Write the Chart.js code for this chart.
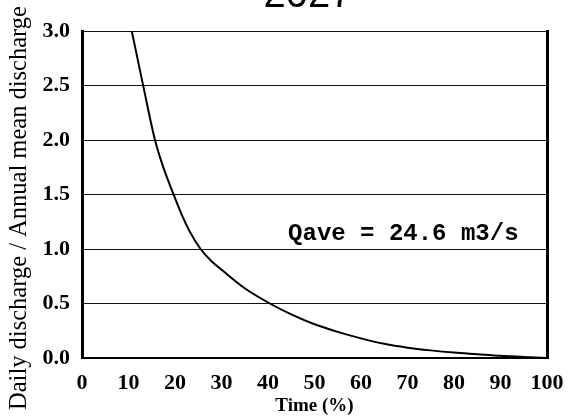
<!DOCTYPE html>
<html>
<head>
<meta charset="utf-8">
<script src="https://cdn.jsdelivr.net/npm/chart.js@4/dist/chart.umd.min.js"></script>
<style>
html,body{margin:0;padding:0;background:#fff;overflow:hidden;}
#c{display:block;}
</style>
</head>
<body>
<canvas id="c" width="570" height="419"></canvas>
<script>
// ---- data ----
const timePct = [10.7, 13.2, 15.7, 17.4, 19.6, 21.3, 23.3, 25.5, 27.8, 30.3, 35, 40.4, 45, 50, 55, 60, 65, 70, 75, 80, 85, 90, 95, 100];
const ratio   = [3.0, 2.49, 2.0, 1.76, 1.51, 1.33, 1.15, 1.0, 0.89, 0.8, 0.64, 0.5, 0.4, 0.31, 0.24, 0.18, 0.13, 0.095, 0.07, 0.05, 0.035, 0.02, 0.01, 0.0];
const xTickLabels = ['0','10','20','30','40','50','60','70','80','90','100'];
const yTickLabels = ['0.0','0.5','1.0','1.5','2.0','2.5','3.0'];
const titleText = '2027';
const noteText = 'Qave = 24.6 m3/s';
const notePos = {x: 69.1, y: 1.14};
const xTitle = 'Time (%)';
const yTitle = 'Daily discharge / Annual mean discharge';

const serif = '"Liberation Serif", "Times New Roman", serif';

const extraText = {
  id: 'extraText',
  afterDraw(chart) {
    const ctx = chart.ctx;
    const xs = chart.scales.x, ys = chart.scales.y;
    ctx.save();
    ctx.fillStyle = '#000';
    ctx.textAlign = 'center';
    ctx.textBaseline = 'alphabetic';
    ctx.font = '40px "Liberation Sans", Arial, sans-serif';
    ctx.fillText(titleText, 308, 7);
    ctx.font = 'bold 24px "Liberation Mono", "Courier New", monospace';
    ctx.textBaseline = 'middle';
    ctx.fillText(noteText, xs.getPixelForValue(notePos.x), ys.getPixelForValue(notePos.y));
    // y axis title
    ctx.translate(20, 208);
    ctx.rotate(-Math.PI / 2);
    ctx.font = '24.5px ' + serif;
    ctx.fillText(yTitle, 0, 0);
    ctx.restore();
  }
};

new Chart(document.getElementById('c'), {
  type: 'line',
  data: {
    datasets: [{
      data: timePct.map((t, i) => ({x: t, y: ratio[i]})),
      borderColor: '#000',
      borderWidth: 2,
      pointRadius: 0,
      fill: false,
      cubicInterpolationMode: 'monotone'
    }]
  },
  options: {
    responsive: false,
    animation: false,
    devicePixelRatio: 1,
    layout: {padding: {left: 0, right: 0, top: 31, bottom: 0}},
    plugins: {legend: {display: false}, tooltip: {enabled: false}, title: {display: false}},
    scales: {
      x: {
        type: 'linear', min: 0, max: 100,
        afterFit(s) { s.height = 61; },
        afterBuildTicks(s) { s.ticks = xTickLabels.map(v => ({value: Number(v)})); },
        ticks: {
          color: '#000', padding: 0, maxRotation: 0, autoSkip: false,
          font: {family: serif, size: 22, weight: 'bold'},
          callback: (v, i) => xTickLabels[i]
        },
        grid: {display: true, drawOnChartArea: false, drawTicks: true, tickLength: 12,
               tickColor: 'rgba(0,0,0,0)'},
        border: {display: true, color: '#000', width: 2},
        title: {display: true, text: xTitle, color: '#000', padding: {top: 0, bottom: 2},
                font: {family: serif, size: 19, weight: 'bold'}}
      },
      y: {
        type: 'linear', min: 0, max: 3,
        afterFit(s) { s.width = 82; },
        afterBuildTicks(s) { s.ticks = yTickLabels.map(v => ({value: Number(v)})); },
        ticks: {
          color: '#000', padding: 12,
          font: {family: serif, size: 22, weight: 'bold'},
          callback: (v, i) => yTickLabels[i]
        },
        grid: {color: '#111', lineWidth: 1, drawTicks: false},
        border: {display: true, color: '#000', width: 3},
        title: {display: false}
      },
      y2: {
        type: 'linear', position: 'right', min: 0, max: 3,
        afterFit(s) { s.width = 23; },
        ticks: {display: false},
        grid: {display: false, drawTicks: false},
        border: {display: true, color: '#000', width: 3}
      }
    }
  },
  plugins: [extraText]
});
</script>
</body>
</html>
